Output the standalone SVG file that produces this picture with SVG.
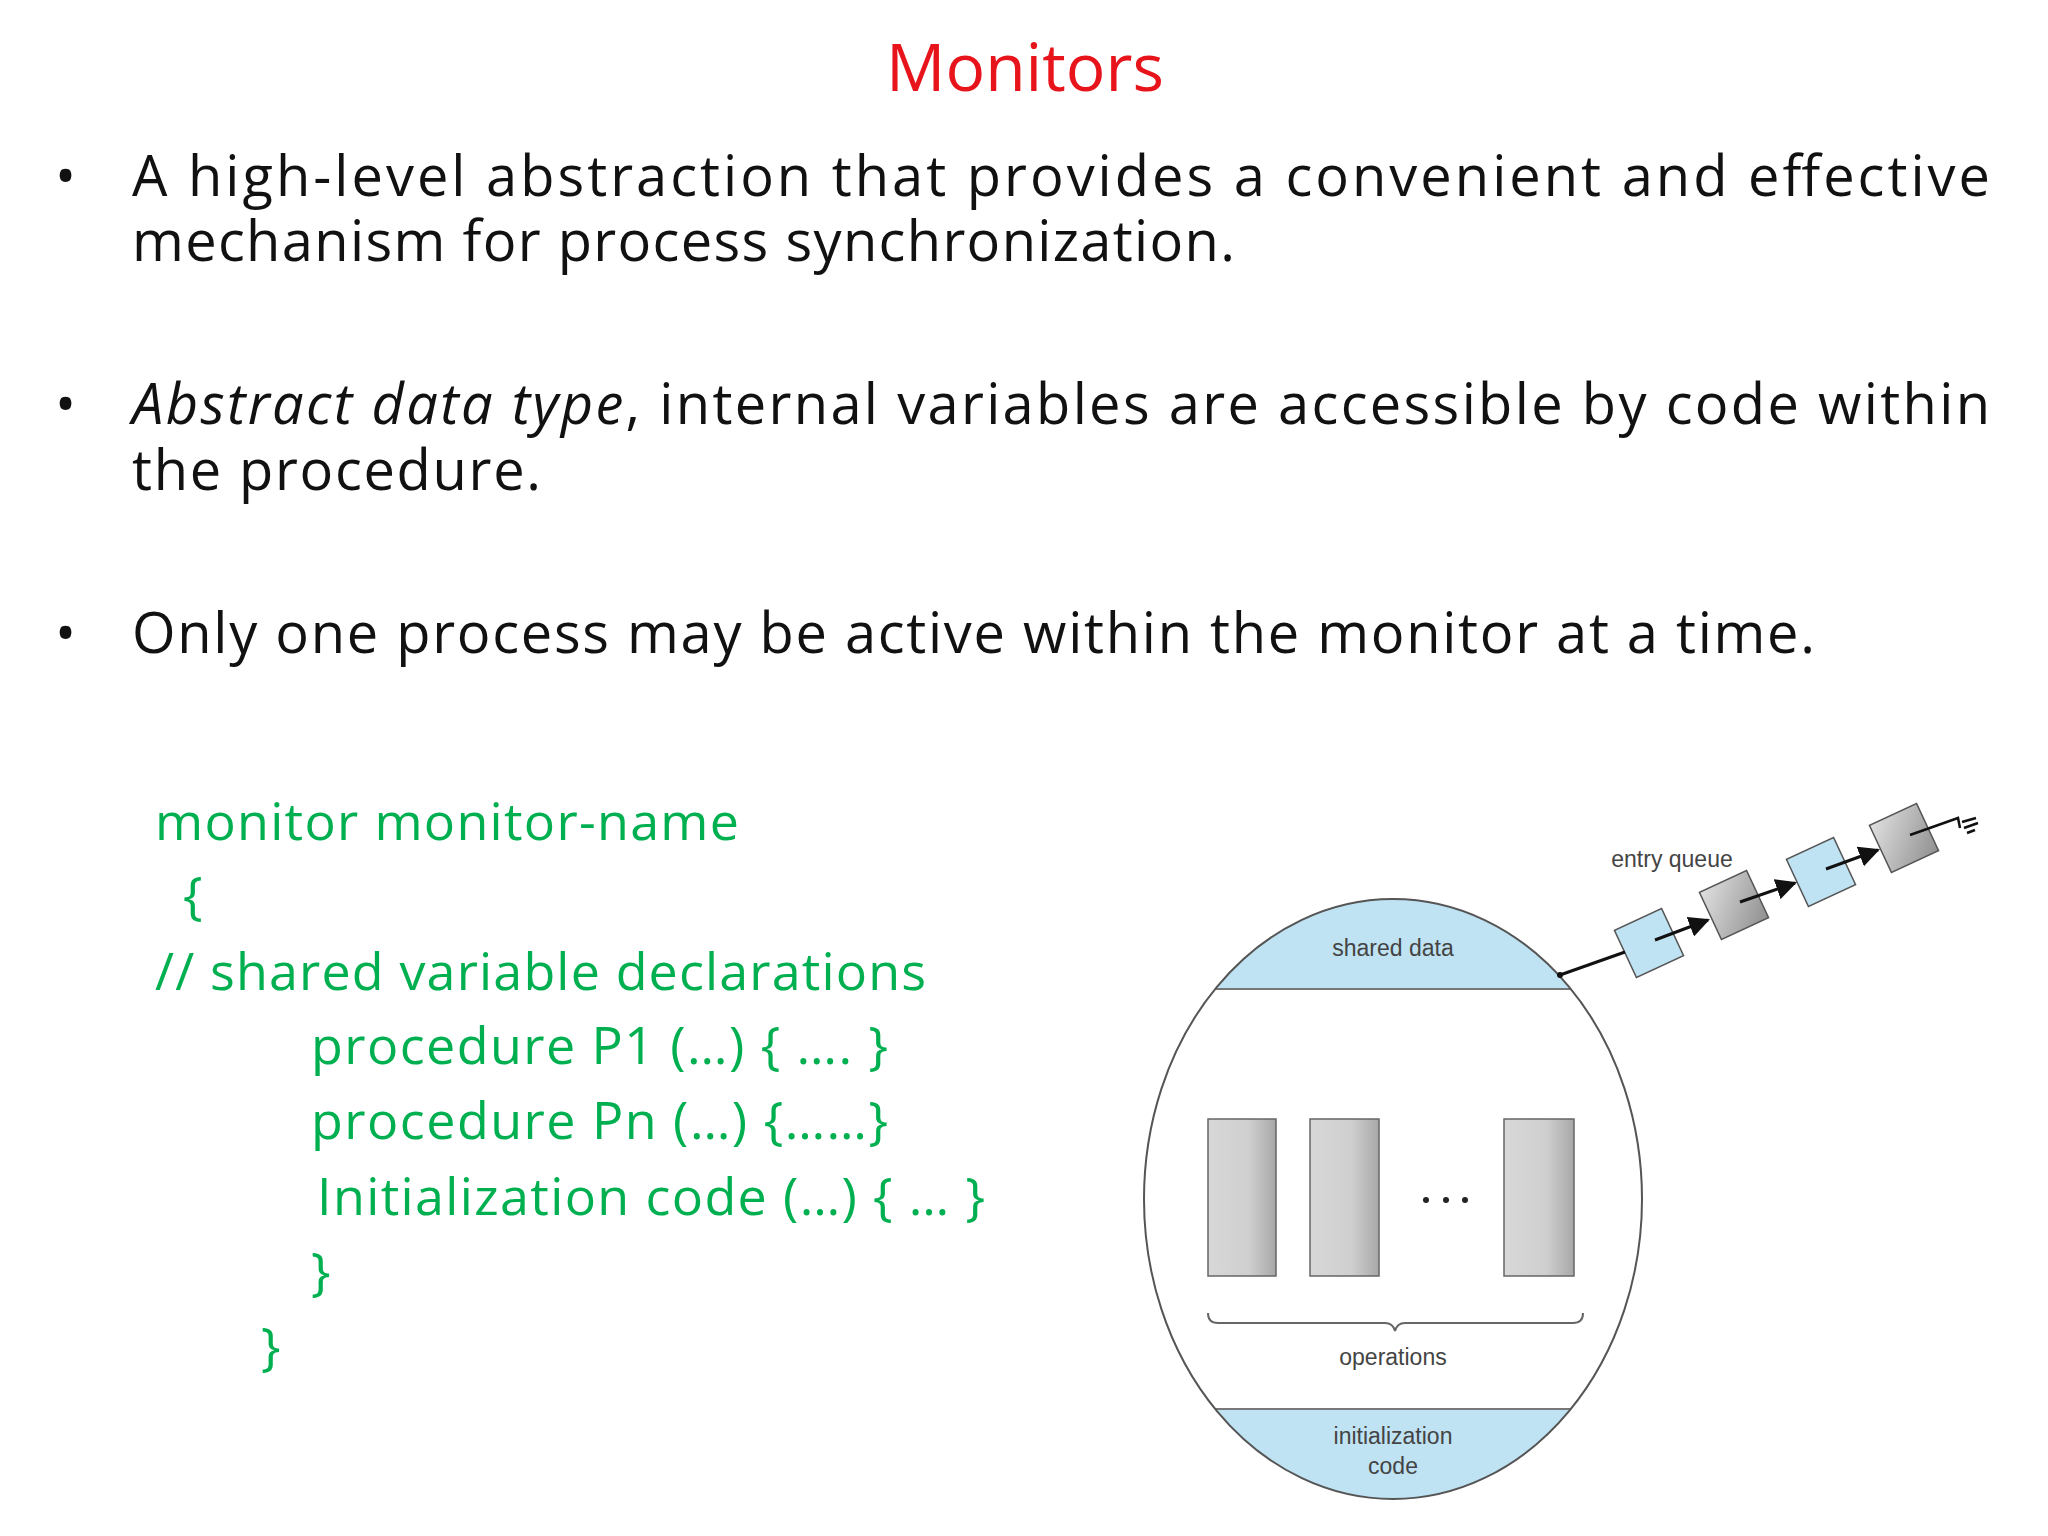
<svg xmlns="http://www.w3.org/2000/svg" width="2048" height="1536" viewBox="0 0 2048 1536">
<style>
.b{font-family:"Open Sans","Liberation Sans",sans-serif;font-size:56px;fill:#111}
.g{font-family:"Open Sans","Liberation Sans",sans-serif;font-size:52px;fill:#00B050}
.d{font-family:"Liberation Sans",Arial,sans-serif;font-size:23px;fill:#444;text-anchor:middle}
.op{fill:url(#gr);stroke:#666;stroke-width:1.5}
.qb{fill:#bfe3f3;stroke:#555;stroke-width:1.5}
.qg{fill:url(#gr2);stroke:#555;stroke-width:1.5}
</style>
<defs>
<linearGradient id="gr" x1="0" x2="1"><stop offset="0" stop-color="#d8d8d8"/><stop offset="0.6" stop-color="#cfcfcf"/><stop offset="1" stop-color="#a8a8a8"/></linearGradient>
<linearGradient id="gr2" x1="0" y1="0" x2="1" y2="1"><stop offset="0" stop-color="#e0e0e0"/><stop offset="1" stop-color="#909090"/></linearGradient>
<clipPath id="ec"><ellipse cx="1393" cy="1199" rx="249" ry="300"/></clipPath>
<marker id="ah" viewBox="0 0 10 10" refX="9" refY="5" markerWidth="7" markerHeight="7" orient="auto"><path d="M0,0L10,5L0,10z" fill="#111"/></marker>
</defs>
<rect width="2048" height="1536" fill="#fff"/>
<text x="1025" y="91" text-anchor="middle" font-family="'Open Sans','Liberation Sans',sans-serif" font-size="66" fill="#e8141b">Monitors</text>
<g id="bullets">
<text x="55" y="196" class="b">•</text>
<text x="132" y="196" class="b" textLength="1858" lengthAdjust="spacing">A high-level abstraction that provides a convenient and effective</text>
<text x="132" y="261" class="b" textLength="1103">mechanism for process synchronization.</text>
<text x="55" y="424" class="b">•</text>
<text x="132" y="424" class="b" textLength="1858"><tspan font-style="italic">Abstract data type</tspan>, internal variables are accessible by code within</text>
<text x="132" y="490" class="b" textLength="409">the procedure.</text>
<text x="55" y="653" class="b">•</text>
<text x="132" y="653" class="b" textLength="1683">Only one process may be active within the monitor at a time.</text>
</g>
<g id="code">
<text x="155" y="840" class="g" textLength="584">monitor monitor-name</text>
<text x="183" y="914" class="g">{</text>
<text x="155" y="990" class="g" textLength="771">// shared variable declarations</text>
<text x="311" y="1064" class="g" textLength="577">procedure P1 (…) { …. }</text>
<text x="311" y="1139" class="g" textLength="577">procedure Pn (…) {……}</text>
<text x="317" y="1215" class="g" textLength="668">Initialization code (…) { … }</text>
<text x="311" y="1290" class="g">}</text>
<text x="261" y="1365" class="g">}</text>
</g>
<g id="monitor">
<g clip-path="url(#ec)">
<rect x="1140" y="890" width="510" height="99" fill="#bfe3f3"/>
<rect x="1140" y="1409" width="510" height="95" fill="#bfe3f3"/>
<line x1="1140" y1="989" x2="1650" y2="989" stroke="#777" stroke-width="2"/>
<line x1="1140" y1="1409" x2="1650" y2="1409" stroke="#777" stroke-width="2"/>
</g>
<ellipse cx="1393" cy="1199" rx="249" ry="300" fill="none" stroke="#555" stroke-width="2"/>
<text x="1393" y="956" class="d">shared data</text>
<rect x="1208" y="1119" width="68" height="157" class="op"/>
<rect x="1310" y="1119" width="69" height="157" class="op"/>
<rect x="1504" y="1119" width="70" height="157" class="op"/>
<g fill="#222"><circle cx="1426" cy="1200" r="3"/><circle cx="1446" cy="1200" r="3"/><circle cx="1465" cy="1200" r="3"/></g>
<path d="M1208,1313 q0,10 10,10 h167 q8,0 10,8 q2,-8 10,-8 h168 q10,0 10,-10" fill="none" stroke="#666" stroke-width="2"/>
<text x="1393" y="1365" class="d">operations</text>
<text x="1393" y="1444" class="d">initialization</text>
<text x="1393" y="1474" class="d">code</text>
</g>
<g id="queue">
<text x="1672" y="867" class="d">entry queue</text>
<g transform="rotate(-25 1649 943)"><rect x="1623" y="917" width="52" height="52" class="qb"/></g>
<g transform="rotate(-25 1734 905)"><rect x="1708" y="879" width="52" height="52" class="qg"/></g>
<g transform="rotate(-25 1821 872)"><rect x="1795" y="846" width="52" height="52" class="qb"/></g>
<g transform="rotate(-25 1904 838)"><rect x="1878" y="812" width="52" height="52" class="qg"/></g>
</g>
<g id="connectors" stroke="#111" stroke-width="3" fill="none">
<line x1="1625" y1="952" x2="1560" y2="975"/>
<circle cx="1560" cy="975" r="3" fill="#111" stroke="none"/>
<line x1="1655" y1="940" x2="1708" y2="920" marker-end="url(#ah)"/>
<line x1="1740" y1="902" x2="1795" y2="883" marker-end="url(#ah)"/>
<line x1="1826" y1="869" x2="1878" y2="850" marker-end="url(#ah)"/>
<path d="M1910,835 L1958,818 L1960,828 M1962,822 L1976,818 M1964,828 L1978,823 M1967,833 L1975,830" stroke-width="2.5"/>
</g>
</svg>
